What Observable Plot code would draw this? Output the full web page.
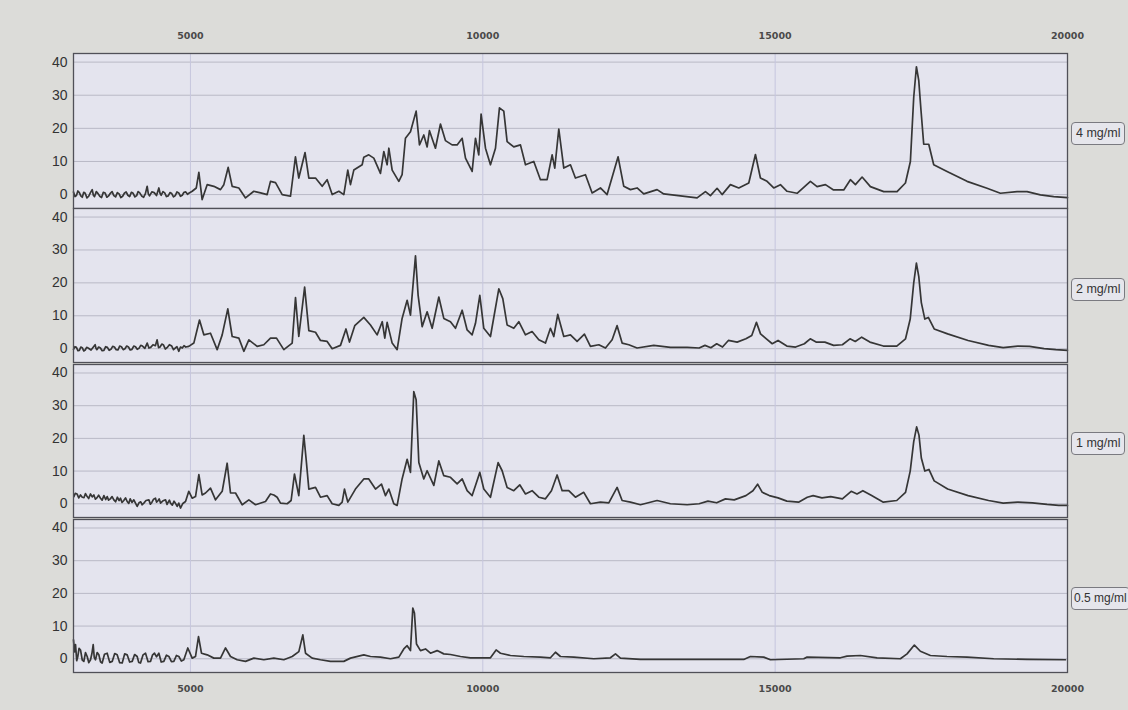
<!DOCTYPE html>
<html><head><meta charset="utf-8">
<script src="https://cdn.jsdelivr.net/npm/d3@7"></script>
<script src="https://cdn.jsdelivr.net/npm/@observablehq/plot@0.6"></script>
<style>
html,body{margin:0;padding:0;background:#dcdcd9;}
#wrap{position:relative;width:1128px;height:710px;overflow:hidden;background:#dcdcd9;}
.panel{position:absolute;left:0;}
.tag{position:absolute;left:1071px;height:21px;line-height:21px;padding:0 4px;border:1px solid #7a7a80;border-radius:4px;background:#e6e6ec;font-family:"Liberation Sans",Arial,sans-serif;font-size:12.5px;color:#333;white-space:nowrap;}
.tag.last{padding:0 2px;font-size:12px;}
</style></head><body><div id="wrap"></div>
<script>
const xTicks = [5000, 10000, 15000, 20000];
const xGrid = [5000, 10000, 15000];
const yTicks = [0, 10, 20, 30, 40];
const labels = ["4 mg/ml", "2 mg/ml", "1 mg/ml", "0.5 mg/ml"];

// [m/z, intensity]
const spec4 = [[3000,0.8],[3025,-0.6],[3050,-0.3],[3075,1.1],[3100,0.6],[3125,-0.4],[3150,-0.8],[3175,0.7],[3200,0.4],[3230,-1],[3260,-0.5],[3290,0.6],[3320,1.5],[3340,-0.2],[3360,-0.6],[3390,0.9],[3420,0.3],[3450,-0.5],[3480,-0.9],[3510,0.7],[3540,0.5],[3570,-0.8],[3600,-0.4],[3630,0.4],[3660,0.9],[3690,-0.3],[3720,-0.7],[3750,0.6],[3780,0.2],[3810,-0.9],[3840,-0.5],[3870,0.4],[3900,0.8],[3930,-0.2],[3960,-0.6],[3990,0.7],[4020,0.4],[4050,-0.7],[4080,-0.3],[4105,0.9],[4130,0.6],[4165,-0.4],[4200,-0.8],[4230,0.3],[4260,2.5],[4280,0.2],[4300,-0.4],[4340,0.8],[4380,0.6],[4420,-0.3],[4460,2],[4480,0.4],[4500,-0.2],[4530,0.9],[4560,0.5],[4590,-0.6],[4620,-0.4],[4650,0.6],[4680,0.3],[4710,-0.7],[4740,-0.3],[4770,0.8],[4800,0.5],[4830,-0.5],[4860,-0.2],[4890,0.7],[4920,0.8],[4950,0.1],[4980,0.5],[5030,1],[5100,2],[5144,6.7],[5200,-1.5],[5286,3],[5400,2.5],[5514,1.5],[5571,3],[5645,8.2],[5714,2.5],[5828,2],[5942,-1],[6084,1],[6200,0.5],[6312,0],[6369,4],[6455,3.6],[6569,0],[6711,-0.5],[6796,11.4],[6853,5],[6960,12.7],[7025,5],[7139,5],[7253,2.5],[7338,4.5],[7424,0],[7538,1],[7623,0],[7691,7.4],[7737,3],[7794,7.4],[7937,9],[7965,11.3],[8050,12],[8136,11],[8250,6.4],[8307,13],[8364,9],[8393,14],[8450,7.4],[8564,4],[8620,6],[8677,17],[8763,19],[8860,25.2],[8917,15],[8991,18],[9048,14.4],[9088,19.3],[9190,14],[9276,21.3],[9361,16.3],[9475,15],[9561,15],[9647,17],[9704,11],[9818,7],[9875,17],[9931,12],[9971,24.3],[10046,14],[10131,9],[10217,14],[10285,26.2],[10359,25.2],[10416,16],[10530,14.4],[10644,15],[10730,9],[10872,10],[10986,4.5],[11100,4.5],[11186,12],[11231,8],[11300,19.8],[11385,8],[11499,9],[11584,5],[11756,6],[11870,0.5],[12012,2],[12126,0],[12314,11.4],[12411,2.5],[12525,1.5],[12639,2],[12753,0.2],[12981,1.5],[13095,0.2],[13380,-0.4],[13665,-1],[13808,0.9],[13893,-0.3],[14007,1.9],[14093,0],[14235,3],[14378,2],[14549,3.5],[14663,12.1],[14748,5],[14862,4],[14976,2],[15090,3],[15204,1],[15375,0.4],[15603,4],[15717,2.4],[15860,3],[15999,1.4],[16173,1.4],[16287,4.5],[16373,3],[16487,5.3],[16629,2.4],[16857,0.9],[17085,0.9],[17228,3.5],[17313,10],[17370,29.4],[17416,38.6],[17456,34.5],[17495,25.3],[17541,15.2],[17627,15.2],[17712,9],[17940,7],[18282,4],[18624,1.9],[18852,0.4],[19137,0.9],[19308,0.9],[19536,-0.1],[19764,-0.6],[20000,-0.9]];

const spec2 = [[3000,-0.2],[3025,0.6],[3050,0.4],[3075,-0.6],[3100,-0.5],[3125,0.5],[3150,0.3],[3175,-0.7],[3200,-0.4],[3225,0.4],[3250,0.2],[3300,-0.4],[3370,1.2],[3385,0.1],[3400,-0.3],[3430,0.5],[3460,0.2],[3490,-0.6],[3520,-0.5],[3550,0.6],[3580,0.4],[3610,-0.5],[3640,-0.2],[3670,0.7],[3700,0.5],[3730,-0.3],[3760,-0.4],[3790,0.8],[3820,0.6],[3850,-0.3],[3880,0],[3910,0.8],[3940,0.5],[3970,-0.4],[4000,-0.2],[4030,0.8],[4060,0.6],[4090,-0.2],[4120,0.1],[4150,1],[4180,0.8],[4220,0.1],[4260,1.7],[4290,0.2],[4320,0.4],[4360,1.2],[4400,0.9],[4430,2.7],[4455,0.3],[4480,0.5],[4510,1.4],[4540,1.1],[4570,-0.1],[4600,0.3],[4640,1.2],[4680,0.8],[4710,-0.3],[4740,0.2],[4770,0.6],[4800,-0.8],[4830,0.5],[4860,0.2],[4890,0.9],[4920,0.5],[4972,0.7],[5058,1.7],[5155,8.7],[5229,4.2],[5343,4.7],[5457,-0.3],[5543,4.2],[5639,12.1],[5714,3.7],[5828,3.2],[5913,-0.8],[5999,2.7],[6141,0.7],[6255,1.2],[6369,3.2],[6472,3.2],[6597,-0.3],[6740,1.7],[6797,15.5],[6853,3.7],[6953,18.7],[7025,5.5],[7139,5],[7224,2.5],[7338,2.2],[7424,0],[7566,1],[7660,6],[7720,2],[7810,7],[7965,9.5],[8079,7.2],[8193,4.2],[8280,8.2],[8324,3.2],[8364,8],[8450,1.7],[8535,-0.3],[8620,9.2],[8706,14.7],[8763,10.2],[8849,28.2],[8894,16.2],[8963,6.7],[9048,11.2],[9134,6.2],[9248,15.7],[9333,9.2],[9447,8.2],[9533,6.2],[9647,11.7],[9732,5.7],[9818,4.2],[9875,7.7],[9949,16.2],[10017,6.2],[10131,3.7],[10274,18.2],[10342,15.2],[10416,7.2],[10530,6.2],[10616,8.2],[10730,4.2],[10843,5.2],[10958,2.7],[11072,1.7],[11157,6.2],[11214,3.7],[11282,10.4],[11385,3.7],[11499,4.2],[11613,2.2],[11738,4.4],[11841,0.7],[11984,1.2],[12098,0.2],[12212,2.7],[12297,7],[12383,1.7],[12497,1.2],[12639,0.2],[12924,1],[13209,0.4],[13494,0.4],[13700,0.2],[13800,1],[13900,0.3],[14000,1.5],[14100,0.5],[14200,2.5],[14350,2],[14500,3],[14600,4],[14680,8],[14750,4.5],[14850,3],[14950,1.5],[15050,2.5],[15200,0.8],[15350,0.5],[15500,1.5],[15600,3],[15700,2],[15850,2],[16000,1],[16150,1.2],[16280,3],[16370,2.2],[16480,3.5],[16620,2],[16850,0.8],[17080,0.8],[17230,3],[17310,9],[17370,20],[17416,26],[17456,22],[17500,14],[17560,9],[17620,9.5],[17720,6],[17950,4.5],[18300,2.5],[18650,1],[18900,0.3],[19150,0.8],[19350,0.7],[19600,0],[19800,-0.3],[20000,-0.5]];

const spec1 = [[3006,2.2],[3030,3.2],[3060,3],[3090,1.8],[3120,2.7],[3150,2],[3180,1.9],[3205,3.1],[3234,2.2],[3260,1.6],[3290,3],[3320,2.1],[3348,2.7],[3375,1.4],[3400,1.8],[3430,2.6],[3462,1.7],[3490,1.1],[3520,2.5],[3550,1.3],[3576,2.2],[3600,1.1],[3630,1.5],[3660,2.2],[3690,1.2],[3720,0.6],[3750,2],[3780,1],[3804,1.7],[3830,0.4],[3860,1],[3890,1.8],[3918,0.7],[3945,0.1],[3970,1.5],[4000,0.4],[4032,1.2],[4060,0.2],[4089,-0.8],[4120,0.3],[4150,0.6],[4175,-0.3],[4203,0.2],[4240,1],[4289,1.2],[4315,-0.1],[4340,0.4],[4370,1.4],[4402,1.7],[4420,0.5],[4440,0.8],[4465,1.5],[4488,0.2],[4530,0.9],[4574,1.2],[4600,-0.2],[4620,0.5],[4640,1.1],[4659,0.2],[4690,-0.4],[4720,0.8],[4745,0.1],[4773,-0.8],[4800,0.2],[4830,-1.3],[4870,0.1],[4916,0.7],[4972,3.8],[5030,1.7],[5087,2.2],[5144,8.9],[5200,2.7],[5258,3.3],[5343,4.8],[5429,1.2],[5543,3.8],[5628,12.4],[5685,3.3],[5771,3.3],[5885,-0.3],[5999,1.2],[6113,-0.3],[6284,0.7],[6369,3],[6426,2.7],[6483,2],[6540,0.2],[6654,0],[6722,1],[6779,9.1],[6853,2.5],[6939,20.9],[6979,13.6],[7025,4.5],[7139,5],[7224,2],[7338,2.5],[7424,0],[7538,-0.5],[7595,0.5],[7634,4.5],[7691,0.5],[7822,4.5],[7965,7.6],[8050,7.6],[8165,4.5],[8267,6],[8336,2.5],[8393,4.5],[8478,0],[8535,-0.5],[8620,7.6],[8706,13.6],[8763,9.6],[8820,34.3],[8860,31.8],[8906,12.6],[8991,7.6],[9048,10.1],[9162,5.6],[9248,13.1],[9333,8.6],[9447,8.1],[9561,6.1],[9647,7.6],[9732,4],[9818,2.5],[9875,5.6],[9949,9.6],[10017,4.5],[10131,2],[10262,12.6],[10331,10.1],[10416,5],[10530,4],[10632,5.8],[10730,3],[10843,4],[10958,2],[11072,1.5],[11174,4],[11271,8.8],[11357,4],[11470,4],[11584,2],[11727,3.5],[11841,0],[12012,0.5],[12155,0.3],[12297,5],[12383,1],[12525,0.5],[12696,-0.3],[12981,1],[13209,0],[13494,-0.3],[13700,0],[13850,0.8],[14000,0.3],[14150,1.5],[14300,1.2],[14500,2.5],[14620,4],[14700,6],[14780,3.5],[14900,2.5],[15050,1.8],[15200,0.8],[15400,0.5],[15550,2],[15650,2.5],[15800,1.8],[15950,2.2],[16150,1.5],[16300,3.8],[16400,3],[16500,4],[16650,2.5],[16850,0.5],[17080,1],[17230,3.5],[17310,10],[17370,19],[17420,23.5],[17460,21],[17500,14],[17560,10],[17630,10.5],[17720,7],[17950,4.5],[18300,2.5],[18650,1],[18900,0.2],[19150,0.5],[19400,0.3],[19650,-0.2],[19850,-0.5],[20000,-0.5]];

const spec05 = [[3000,5.8],[3018,2.1],[3035,4.3],[3055,-0.6],[3074,0.7],[3095,3.2],[3120,2.7],[3150,-0.4],[3177,-0.8],[3205,1.9],[3234,0.7],[3262,-1.2],[3291,-0.3],[3315,1.6],[3337,4.3],[3355,0.4],[3376,-0.3],[3405,1.9],[3434,1.2],[3462,-0.9],[3490,-1.3],[3530,1.4],[3576,1.7],[3620,-1.1],[3662,-0.8],[3705,1.6],[3747,1.2],[3790,-1.2],[3833,-1.3],[3875,1.5],[3918,1.2],[3960,-1],[4004,-0.8],[4045,1.3],[4089,0.7],[4115,-1.1],[4146,-1.3],[4190,1.2],[4232,1.7],[4275,-0.9],[4317,-0.8],[4350,1.1],[4385,1.7],[4420,0.6],[4460,1.7],[4500,-1],[4545,-0.8],[4590,1.1],[4631,0.7],[4675,-0.9],[4716,-0.8],[4760,1],[4802,0.7],[4845,-0.7],[4887,-0.3],[4955,3.3],[5030,0.2],[5087,0.7],[5138,6.8],[5189,1.7],[5286,1.2],[5400,0.2],[5514,0.2],[5600,3.3],[5685,0.7],[5799,-0.3],[5942,-0.8],[6084,0.2],[6255,-0.3],[6426,0.2],[6597,-0.3],[6740,0.7],[6854,2.2],[6922,7.3],[6968,1.7],[7082,0.2],[7224,-0.3],[7395,-0.8],[7623,-0.8],[7737,0.2],[7965,1.2],[8079,0.7],[8250,0.5],[8421,0],[8564,0.5],[8649,3],[8706,4],[8763,2.5],[8803,15.5],[8831,14],[8866,4.5],[8934,2.5],[9020,3],[9105,1.7],[9219,2.5],[9333,1.5],[9447,1.3],[9618,0.7],[9789,0.3],[9960,0.3],[10131,0.3],[10228,2.7],[10302,1.7],[10473,1],[10701,0.7],[10986,0.5],[11157,0.3],[11243,2],[11328,0.7],[11556,0.5],[11898,0],[12183,0.3],[12269,1.5],[12354,0.2],[12696,-0.2],[13095,-0.2],[13665,-0.2],[14235,-0.2],[14463,-0.2],[14577,0.7],[14805,0.5],[14919,-0.3],[15489,0],[15546,0.5],[16116,0.3],[16230,0.8],[16458,1],[16743,0.3],[17142,0],[17256,1.5],[17381,4.2],[17484,2.3],[17655,1],[17940,0.7],[18282,0.5],[18738,0],[19308,-0.2],[19964,-0.3]];

const series = [spec4, spec2, spec1, spec05];

const layout = [
  {top: 0,   height: 208, mt: 53, mb: 0,  tagTop: 122},
  {top: 208, height: 154, mt: 0,  mb: 0,  tagTop: 278},
  {top: 364, height: 153, mt: 0,  mb: 0,  tagTop: 432},
  {top: 519, height: 191, mt: 0,  mb: 38, tagTop: 587}
];

const xFont = {fill: "#4a4a4a", fontSize: 9.5, fontWeight: "bold", fontFamily: "'DejaVu Sans', Verdana, sans-serif", label: null, tickSize: 0, tickFormat: d => String(d)};

const wrap = document.getElementById("wrap");
series.forEach((data, i) => {
  const L = layout[i];
  const marks = [
    Plot.frame({fill: "#e4e4ee", stroke: null}),
    Plot.gridY(yTicks, {stroke: "#b9b9c6", strokeOpacity: 1, strokeWidth: 1}),
    Plot.gridX(xGrid, {stroke: "#c6c6de", strokeOpacity: 1, strokeWidth: 1}),
    Plot.line(data, {x: d => d[0], y: d => d[1], stroke: "#363636", strokeWidth: 1.7}),
    Plot.frame({stroke: "#505058", strokeWidth: 1.3}),
    Plot.axisY(yTicks, {tickSize: 0, tickPadding: 6, fill: "#333", fontSize: 14, fontFamily: "'Liberation Sans', Arial, sans-serif", label: null})
  ];
  if (i === 0) marks.push(Plot.axisX(xTicks, {...xFont, anchor: "top", tickPadding: 15}));
  if (i === 3) marks.push(Plot.axisX(xTicks, {...xFont, anchor: "bottom", tickPadding: 13}));
  const xOpts = {domain: [3000, 20000]};
  if (i === 1 || i === 2) xOpts.axis = null;
  const svg = Plot.plot({
    width: 1128, height: L.height,
    marginLeft: 73, marginRight: 61, marginTop: L.mt, marginBottom: L.mb,
    style: {background: "transparent", overflow: "visible"},
    x: xOpts,
    y: {domain: [-4.2, 42.6]},
    marks
  });
  const holder = document.createElement("div");
  holder.className = "panel";
  holder.style.top = L.top + "px";
  holder.appendChild(svg);
  wrap.appendChild(holder);
  const tag = document.createElement("div");
  tag.className = i === 3 ? "tag last" : "tag";
  tag.style.top = L.tagTop + "px";
  tag.textContent = labels[i];
  wrap.appendChild(tag);
});
</script></body></html>
